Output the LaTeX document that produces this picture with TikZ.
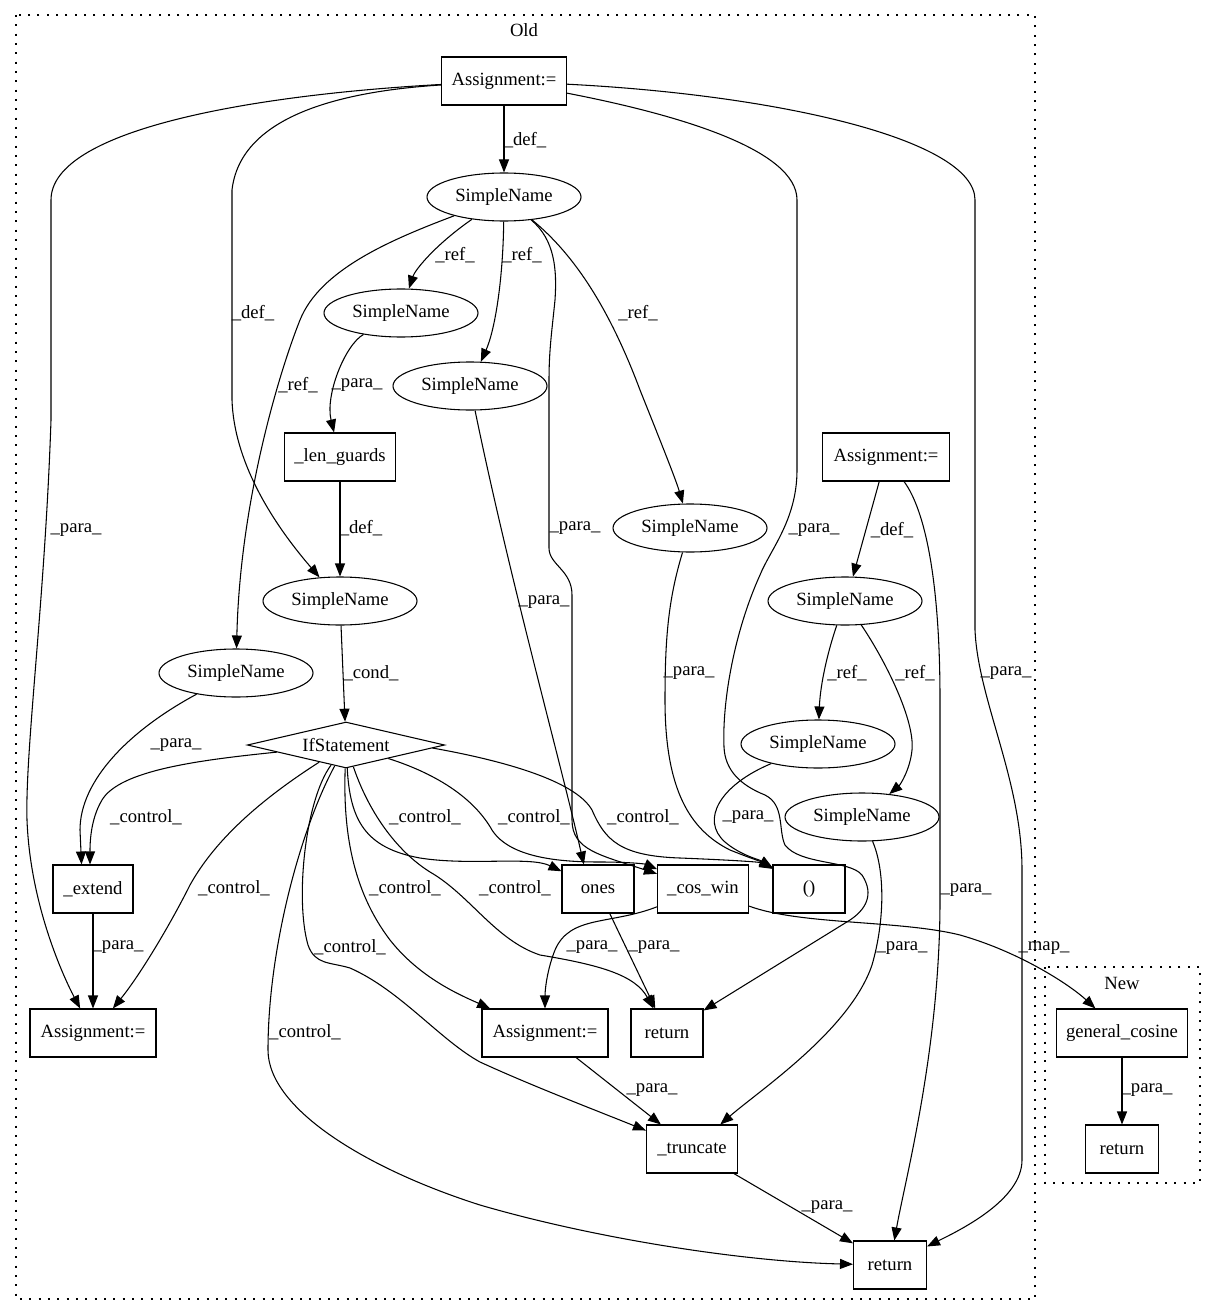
\documentclass[tikz,border=0pt]{standalone}
\usepackage{fontspec}
\setmainfont{Liberation Serif}
\usetikzlibrary{arrows.meta,shapes.geometric}
\begin{document}
\begin{tikzpicture}[x=0.75pt,y=-0.75pt,
  every node/.style={font=\fontsize{14pt}{16pt}\selectfont},
  box/.style={draw,rectangle,line width=0.8pt,minimum height=36pt,inner sep=0pt},
  sn/.style={draw,ellipse,line width=0.8pt,minimum width=115.5pt,minimum height=36pt,inner sep=0pt},
  ifs/.style={draw,diamond,line width=0.8pt,minimum width=148pt,minimum height=34.5pt,inner sep=0pt,aspect=4.3},
  edge/.style={line width=0.8pt,-{Triangle[length=9.75pt,width=7.5pt]}},
  lbl/.style={inner sep=0pt},
  cluster/.style={draw,line width=0.9pt,dash pattern=on 1.4pt off 5.6pt}]
\useasboundingbox (0,0) rectangle (1212,1316);
% clusters
\draw[cluster] (16,15) rectangle (1035,1299);
\node[lbl] (old) at (524,30) {Old};
\draw[cluster] (1045,967) rectangle (1200,1183);
\node[lbl] (new) at (1122,983) {New};
% nodes
\node[box,minimum width=93.75pt] (A1) at (504,81) {Assignment:=};
\node[sn] (SN0) at (504,197) {SimpleName};
\node[sn] (SNa) at (401,313) {SimpleName};
\node[sn] (SNb) at (470,386) {SimpleName};
\node[box,minimum width=83.25pt] (len) at (340,457) {\_len\_guards};
\node[sn] (SNc) at (690,528) {SimpleName};
\node[box,minimum width=95pt] (A2) at (886,457) {Assignment:=};
\node[sn] (SNd) at (340,601) {SimpleName};
\node[sn] (SNe) at (845,601) {SimpleName};
\node[sn] (SNf) at (236,673) {SimpleName};
\node[ifs] (If) at (346,745) {IfStatement};
\node[sn] (SNg) at (818,744) {SimpleName};
\node[sn] (SNh) at (862,817) {SimpleName};
\node[box,minimum width=60pt] (ext) at (93,889) {\_extend};
\node[box,minimum width=54pt] (ones) at (598,889) {ones};
\node[box,minimum width=68.25pt] (cos) at (703,889) {\_cos\_win};
\node[box,minimum width=54pt] (par) at (809,889) {()};
\node[box,minimum width=94.5pt] (A3) at (93,1033) {Assignment:=};
\node[box,minimum width=94.5pt] (A4) at (545,1033) {Assignment:=};
\node[box,minimum width=54pt] (ret1) at (667,1033) {return};
\node[box,minimum width=98.25pt] (gc) at (1122,1033) {general\_cosine};
\node[box,minimum width=54.75pt] (retn) at (1122,1149) {return};
\node[box,minimum width=68.25pt] (trunc) at (692,1149) {\_truncate};
\node[box,minimum width=54.75pt] (ret2) at (890,1265) {return};
% edges
\draw[edge] (A1) -- (SN0);
\draw[edge] (A1) .. controls (330,92) and (240,120) .. (232,190) -- (232,400) .. controls (234,460) and (270,520) .. (SNd);
\draw[edge] (A1) .. controls (250,95) and (51,130) .. (51,200) -- (51,420) .. controls (45,600) and (25,750) .. (27,820) .. controls (30,900) and (60,970) .. (A3);
\draw[edge] (A1) .. controls (680,115) and (797,150) .. (797,200) -- (797,470) .. controls (797,520) and (770,550) .. (760,575) .. controls (735,630) and (722,700) .. (724,747) .. controls (725,770) and (740,785) .. (765,795) .. controls (785,805) and (778,830) .. (785,845) .. controls (800,865) and (850,860) .. (862,875) .. controls (875,895) and (865,910) .. (850,920) -- (ret1);
\draw[edge] (A1) .. controls (780,95) and (975,140) .. (975,200) -- (975,630) .. controls (978,700) and (1022,780) .. (1022,870) -- (1022,1160) .. controls (1022,1200) and (960,1230) .. (ret2);
\draw[edge] (SN0) .. controls (435,245) and (415,270) .. (SNa);
\draw[edge] (SN0) .. controls (503,280) and (495,330) .. (SNb);
\draw[edge] (SN0) .. controls (575,255) and (610,310) .. (640,390) .. controls (660,440) and (676,480) .. (SNc);
\draw[edge] (SN0) .. controls (390,240) and (320,270) .. (300,320) .. controls (280,370) and (240,500) .. (SNf);
\draw[edge] (SN0) .. controls (555,240) and (557,270) .. (555,300) .. controls (552,330) and (549,350) .. (549,380) -- (549,548) .. controls (549,565) and (572,570) .. (572,595) -- (572,820) .. controls (572,850) and (600,855) .. (cos);
\draw[edge] (SNa) .. controls (345,345) and (325,395) .. (len);
\draw[edge] (SNb) .. controls (510,580) and (560,760) .. (ones.120);
\draw[edge] (len) -- (SNd);
\draw[edge] (SNc) .. controls (668,600) and (665,640) .. (665,700) .. controls (665,790) and (690,830) .. (730,850) .. controls (750,858) and (762,862) .. (par);
\draw[edge] (A2) -- (SNe.72);
\draw[edge] (A2) .. controls (925,510) and (940,580) .. (940,700) -- (940,900) .. controls (940,1050) and (905,1180) .. (ret2);
\draw[edge] (SNe) .. controls (825,660) and (820,690) .. (SNg);
\draw[edge] (SNe) .. controls (885,660) and (915,720) .. (912,750) .. controls (910,770) and (900,785) .. (SNh);
\draw[edge] (SNg) .. controls (720,785) and (700,820) .. (725,842) .. controls (740,855) and (760,860) .. (par);
\draw[edge] (SNh) .. controls (885,870) and (885,920) .. (872,965) .. controls (850,1030) and (760,1090) .. (trunc);
\draw[edge] (SNd) -- (If);
\draw[edge] (SNf) .. controls (130,730) and (80,780) .. (80,830) -- (ext.115);
\draw[edge] (If) .. controls (200,760) and (120,770) .. (102,800) .. controls (90,820) and (90,845) .. (ext.97);
\draw[edge] (If) .. controls (260,800) and (215,840) .. (190,885) .. controls (170,925) and (140,975) .. (A3);
\draw[edge] (If) .. controls (343,830) and (352,890) .. (390,940) .. controls (420,978) and (460,995) .. (A4);
\draw[edge] (If) .. controls (300,830) and (268,950) .. (268,1050) .. controls (268,1110) and (370,1170) .. (480,1205) .. controls (600,1240) and (750,1262) .. (ret2);
\draw[edge] (If) .. controls (305,800) and (295,900) .. (308,945) .. controls (315,965) and (330,962) .. (350,968) .. controls (400,990) and (440,1040) .. (480,1062) .. controls (530,1085) and (590,1108) .. (trunc);
\draw[edge] (If) .. controls (350,820) and (365,848) .. (420,858) .. controls (470,866) and (530,856) .. (ones);
\draw[edge] (If) .. controls (368,810) and (395,850) .. (430,872) .. controls (470,895) and (495,940) .. (540,955) .. controls (600,965) and (635,975) .. (ret1);
\draw[edge] (If) .. controls (440,775) and (475,800) .. (492,830) .. controls (510,858) and (560,862) .. (600,862) .. controls (630,862) and (645,864) .. (cos);
\draw[edge] (If.-2) .. controls (500,760) and (575,780) .. (592,810) .. controls (605,840) and (620,856) .. (680,858) .. controls (730,860) and (760,862) .. (par);
\draw[edge] (ext) -- (A3);
\draw[edge] (ones) -- (ret1);
\draw[edge] (cos) .. controls (610,925) and (570,915) .. (555,950) .. controls (547,970) and (545,990) .. (A4);
\draw[edge] (cos) .. controls (800,925) and (900,920) .. (960,935) .. controls (1020,952) and (1070,985) .. (gc);
\draw[edge] (A4) -- (trunc);
\draw[edge] (trunc) -- (ret2);
\draw[edge] (gc) -- (retn);
% labels
\node[lbl] (l1) at (525,140) {\_def\_};
\node[lbl] (l2) at (253,313) {\_def\_};
\node[lbl] (l3) at (76,530) {\_para\_};
\node[lbl] (l4) at (814,530) {\_para\_};
\node[lbl] (l5) at (1006,673) {\_para\_};
\node[lbl] (l6) at (455,255) {\_ref\_};
\node[lbl] (l7) at (522,255) {\_ref\_};
\node[lbl] (l8) at (638,313) {\_ref\_};
\node[lbl] (l9) at (298,385) {\_ref\_};
\node[lbl] (l10) at (575,528) {\_para\_};
\node[lbl] (l11) at (357,385) {\_para\_};
\node[lbl] (l12) at (544,602) {\_para\_};
\node[lbl] (l13) at (361,528) {\_def\_};
\node[lbl] (l14) at (689,673) {\_para\_};
\node[lbl] (l15) at (892,530) {\_def\_};
\node[lbl] (l16) at (966,890) {\_para\_};
\node[lbl] (l17) at (847,673) {\_ref\_};
\node[lbl] (l18) at (915,673) {\_ref\_};
\node[lbl] (l19) at (748,817) {\_para\_};
\node[lbl] (l20) at (902,948) {\_para\_};
\node[lbl] (l21) at (371,673) {\_cond\_};
\node[lbl] (l22) at (176,745) {\_para\_};
\node[lbl] (l23) at (146,817) {\_control\_};
\node[lbl] (l24) at (234,888) {\_control\_};
\node[lbl] (l25) at (405,888) {\_control\_};
\node[lbl] (l26) at (305,1032) {\_control\_};
\node[lbl] (l27) at (350,947) {\_control\_};
\node[lbl] (l28) at (425,817) {\_control\_};
\node[lbl] (l29) at (515,888) {\_control\_};
\node[lbl] (l30) at (534,817) {\_control\_};
\node[lbl] (l31) at (643,817) {\_control\_};
\node[lbl] (l32) at (118,947) {\_para\_};
\node[lbl] (l33) at (654,947) {\_para\_};
\node[lbl] (l34) at (592,947) {\_para\_};
\node[lbl] (l35) at (1044,948) {\_map\_};
\node[lbl] (l36) at (652,1090) {\_para\_};
\node[lbl] (l37) at (827,1207) {\_para\_};
\node[lbl] (l38) at (1147,1090) {\_para\_};
\end{tikzpicture}
\end{document}
